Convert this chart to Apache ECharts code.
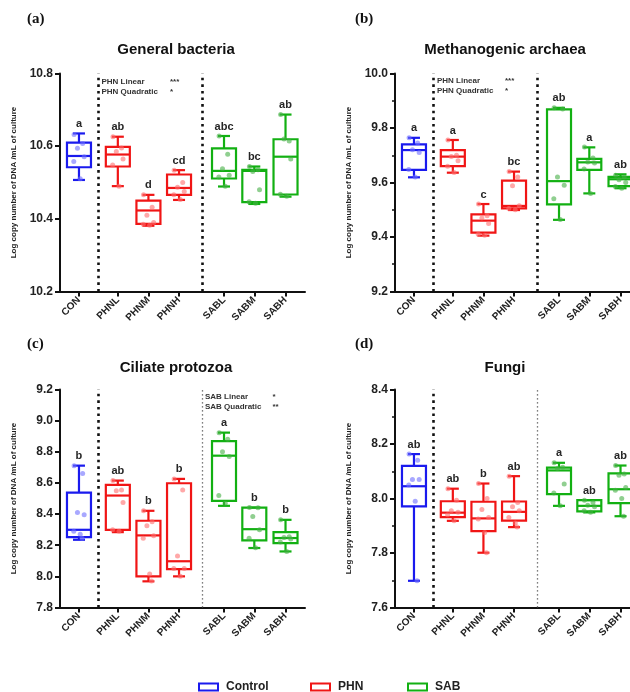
<!DOCTYPE html>
<html><head><meta charset="utf-8">
<script src="https://cdn.jsdelivr.net/npm/echarts@6/dist/echarts.min.js"></script>
<style>html,body{margin:0;padding:0;background:#fff}#c{width:630px;height:692px}</style>
</head><body><div id="c"></div>
<script>
// ---------- data ----------
const categories = ['CON','PHNL','PHNM','PHNH','SABL','SABM','SABH'];
const categoryGroup = ['Control','PHN','PHN','PHN','SAB','SAB','SAB'];
const groupNames = ['Control','PHN','SAB'];

const panelTitles = ['General bacteria','Methanogenic archaea','Ciliate protozoa','Fungi'];
const panelLetters = ['(a)','(b)','(c)','(d)'];
const yAxisName = 'Log copy number of DNA /mL of culture';

const bacteriaTicks = [10.2, 10.4, 10.6, 10.8];
const archaeaTicks  = [9.2, 9.4, 9.6, 9.8, 10.0];
const protozoaTicks = [7.8, 8.0, 8.2, 8.4, 8.6, 8.8, 9.0, 9.2];
const fungiTicks    = [7.6, 7.8, 8.0, 8.2, 8.4];

// box stats: [min, Q1, median, Q3, max]
const bacteriaBox = [
  [10.507, 10.542, 10.573, 10.610, 10.635],
  [10.490, 10.544, 10.577, 10.598, 10.626],
  [10.381, 10.386, 10.423, 10.450, 10.466],
  [10.452, 10.466, 10.485, 10.522, 10.534],
  [10.489, 10.511, 10.532, 10.594, 10.628],
  [10.441, 10.446, 10.532, 10.535, 10.544],
  [10.461, 10.467, 10.571, 10.619, 10.687]
];
const archaeaBox = [
  [9.619, 9.646, 9.719, 9.740, 9.764],
  [9.636, 9.660, 9.695, 9.719, 9.756],
  [9.405, 9.416, 9.460, 9.483, 9.521],
  [9.499, 9.505, 9.514, 9.607, 9.640],
  [9.463, 9.520, 9.605, 9.868, 9.874],
  [9.560, 9.646, 9.674, 9.687, 9.729],
  [9.579, 9.587, 9.612, 9.621, 9.630]
];
const protozoaBox = [
  [8.235, 8.252, 8.299, 8.538, 8.711],
  [8.284, 8.299, 8.519, 8.587, 8.615],
  [7.968, 8.000, 8.263, 8.357, 8.421],
  [8.000, 8.047, 8.097, 8.598, 8.626],
  [8.453, 8.485, 8.775, 8.869, 8.923],
  [8.182, 8.231, 8.303, 8.442, 8.442],
  [8.160, 8.214, 8.246, 8.284, 8.363]
];
const fungiBox = [
  [7.698, 7.971, 8.045, 8.120, 8.163],
  [7.918, 7.932, 7.948, 7.990, 8.036],
  [7.801, 7.880, 7.927, 7.988, 8.055],
  [7.895, 7.919, 7.951, 7.989, 8.082],
  [7.973, 8.016, 8.103, 8.113, 8.131],
  [7.949, 7.953, 7.973, 7.994, 7.994],
  [7.935, 7.983, 8.034, 8.092, 8.121]
];

// individual points
const bacteriaPoints = [
  [10.632, 10.607, 10.594, 10.571, 10.558, 10.510],
  [10.626, 10.595, 10.585, 10.565, 10.548, 10.490],
  [10.466, 10.432, 10.410, 10.390, 10.385, 10.382],
  [10.534, 10.500, 10.487, 10.475, 10.466, 10.453],
  [10.628, 10.578, 10.538, 10.520, 10.515, 10.490],
  [10.544, 10.535, 10.530, 10.480, 10.447, 10.443],
  [10.687, 10.614, 10.620, 10.565, 10.468, 10.462]
];
const archaeaPoints = [
  [9.764, 9.745, 9.720, 9.710, 9.648, 9.620],
  [9.756, 9.700, 9.695, 9.680, 9.660, 9.637],
  [9.521, 9.478, 9.470, 9.450, 9.410, 9.406],
  [9.640, 9.620, 9.588, 9.515, 9.505, 9.500],
  [9.874, 9.870, 9.620, 9.590, 9.540, 9.464],
  [9.730, 9.690, 9.675, 9.672, 9.650, 9.560],
  [9.627, 9.620, 9.610, 9.600, 9.585, 9.579]
];
const protozoaPoints = [
  [8.711, 8.660, 8.410, 8.395, 8.290, 8.270, 8.245],
  [8.615, 8.555, 8.550, 8.475, 8.300, 8.290],
  [8.421, 8.350, 8.325, 8.260, 8.245, 8.015, 7.970],
  [8.626, 8.555, 8.130, 8.050, 8.050, 8.000],
  [8.923, 8.880, 8.800, 8.770, 8.520, 8.470],
  [8.442, 8.440, 8.385, 8.300, 8.245, 8.183],
  [8.363, 8.255, 8.250, 8.240, 8.220, 8.160]
];
const fungiPoints = [
  [8.163, 8.140, 8.070, 8.070, 8.050, 7.990, 7.698],
  [8.036, 7.994, 7.955, 7.950, 7.940, 7.918],
  [8.055, 8.000, 7.960, 7.930, 7.925, 7.875, 7.801],
  [8.082, 7.985, 7.970, 7.955, 7.930, 7.910, 7.895],
  [8.131, 8.115, 8.110, 8.053, 8.020, 7.973],
  [7.994, 7.985, 7.975, 7.970, 7.955, 7.950],
  [8.121, 8.090, 8.085, 8.040, 8.030, 8.000, 7.935]
];

const bacteriaLetters = ['a','ab','d','cd','abc','bc','ab'];
const archaeaLetters  = ['a','a','c','bc','ab','a','ab'];
const protozoaLetters = ['b','ab','b','b','a','b','b'];
const fungiLetters    = ['ab','ab','b','ab','a','ab','ab'];

const bacteriaNotes = [['PHN Linear','***'],['PHN Quadratic','*']];
const archaeaNotes  = [['PHN Linear','***'],['PHN Quadratic','*']];
const protozoaNotes = [['SAB Linear','*'],['SAB Quadratic','**']];

// ---------- layout & style ----------
const FONT = '"Liberation Sans", Arial, sans-serif';
const SERIF = '"Liberation Serif", "Times New Roman", serif';
const UNIT = 30.6;                 // px per x unit
const xPos = [0.62, 1.89, 2.89, 3.89, 5.36, 6.35, 7.37];
const dividerPos = [1.265, 4.66];
const BOX_W = 24, CAP_W = 12, LW = 2.2, LETTER_GAP = 9.5;
const colors = {Control:'#1a1aee', PHN:'#f01515', SAB:'#12b012'};
const pointColors = {Control:'rgba(110,110,255,0.75)', PHN:'rgba(255,110,110,0.75)', SAB:'rgba(70,175,70,0.75)'};
const jitter = [-0.16, 0.12, -0.05, 0.17, -0.17, 0.04, 0.1];

const panels = [
  {box:bacteriaBox, pts:bacteriaPoints, letters:bacteriaLetters, ticks:bacteriaTicks, notes:bacteriaNotes,
   left:60, top:73.5, width:245, minor:false, lightSecond:false},
  {box:archaeaBox, pts:archaeaPoints, letters:archaeaLetters, ticks:archaeaTicks, notes:archaeaNotes,
   left:395, top:73.5, width:235, minor:true, lightSecond:false},
  {box:protozoaBox, pts:protozoaPoints, letters:protozoaLetters, ticks:protozoaTicks, notes:protozoaNotes,
   left:60, top:389.5, width:245, minor:false, lightSecond:true},
  {box:fungiBox, pts:fungiPoints, letters:fungiLetters, ticks:fungiTicks, notes:null,
   left:395, top:389.5, width:235, minor:true, lightSecond:true}
];
const GRID_H = 218;

function nameAt(v){
  let best = 0, d = 1e9;
  xPos.forEach((p,i)=>{ if (Math.abs(p-v) < d){ d = Math.abs(p-v); best = i; } });
  return categories[best];
}

function makeRender(color, letters){
  return function(params, api){
    const x = api.value(0);
    const pMin = api.coord([x, api.value(1)]);
    const pQ1  = api.coord([x, api.value(2)]);
    const pMed = api.coord([x, api.value(3)]);
    const pQ3  = api.coord([x, api.value(4)]);
    const pMax = api.coord([x, api.value(5)]);
    const cx = pMin[0], hw = BOX_W/2, cw = CAP_W/2;
    const st = {stroke: color, lineWidth: LW, fill: 'none'};
    return {type:'group', children:[
      {type:'line', shape:{x1:cx,y1:pMax[1],x2:cx,y2:pQ3[1]}, style:st},
      {type:'line', shape:{x1:cx,y1:pQ1[1],x2:cx,y2:pMin[1]}, style:st},
      {type:'line', shape:{x1:cx-cw,y1:pMax[1],x2:cx+cw,y2:pMax[1]}, style:st},
      {type:'line', shape:{x1:cx-cw,y1:pMin[1],x2:cx+cw,y2:pMin[1]}, style:st},
      {type:'rect', shape:{x:cx-hw,y:pQ3[1],width:2*hw,height:pQ1[1]-pQ3[1]}, style:st},
      {type:'line', shape:{x1:cx-hw,y1:pMed[1],x2:cx+hw,y2:pMed[1]}, style:st},
      {type:'text', x:cx, y:pMax[1]-LETTER_GAP,
       style:{text:letters[params.dataIndex], font:'bold 11px '+FONT, fill:'#262626',
              textAlign:'center', textVerticalAlign:'middle'}}
    ]};
  };
}

const grid = [], xAxis = [], yAxis = [], series = [], graphic = [];
panels.forEach((p, pi)=>{
  grid.push({left:p.left, top:p.top, width:p.width, height:GRID_H, outerBoundsMode:'none', containLabel:false});
  xAxis.push({
    gridIndex:pi, type:'value', min:0, max:p.width/UNIT,
    axisLine:{show:true, onZero:false, lineStyle:{color:'#111', width:2}},
    axisTick:{show:true, customValues:xPos, length:5, inside:false, lineStyle:{color:'#111', width:2}},
    axisLabel:{show:true, customValues:xPos, rotate:45, margin:7, formatter:(v)=>nameAt(v),
               fontSize:10, fontWeight:'bold', color:'#222', fontFamily:FONT},
    splitLine:{show:false}
  });
  const t = p.ticks;
  yAxis.push({
    gridIndex:pi, type:'value', min:t[0], max:t[t.length-1], interval:0.2,
    axisLine:{show:true, lineStyle:{color:'#111', width:2}},
    axisTick:{show:true, length:5, lineStyle:{color:'#111', width:2}},
    minorTick:{show:p.minor, splitNumber:2, length:3, lineStyle:{color:'#111', width:1.5}},
    splitLine:{show:false},
    axisLabel:{formatter:(v)=>v.toFixed(1), fontSize:12, fontWeight:'bold', color:'#222', fontFamily:FONT, margin:7},
    name:yAxisName, nameLocation:'middle', nameGap:42, nameRotate:90,
    nameTextStyle:{fontSize:8, fontWeight:'bold', color:'#222', fontFamily:FONT}
  });

  groupNames.forEach((g, gi)=>{
    const idx = categories.map((c,i)=>i).filter(i=>categoryGroup[i]===g);
    const boxData = idx.map(i=>[xPos[i]].concat(p.box[i]));
    const lets = idx.map(i=>p.letters[i]);
    const s = {
      type:'custom', name:g, xAxisIndex:pi, yAxisIndex:pi, clip:false, z:2,
      itemStyle:{color:colors[g]},
      encode:{x:0, y:[1,2,3,4,5]},
      renderItem: makeRender(colors[g], lets),
      data: boxData, silent:true
    };
    if (gi === 0){
      s.markLine = {
        silent:true, symbol:['none','none'], label:{show:false},
        data: dividerPos.map((d, di)=>{
          const light = p.lightSecond && di === 1;
          return {xAxis:d, lineStyle: light
            ? {color:'#555', width:1.3, type:[1.3, 2.7], cap:'butt'}
            : {color:'#111', width:2.6, type:[2.6, 4.0], cap:'butt'}};
        })
      };
    }
    series.push(s);
    const pts = [];
    idx.forEach(i=>{
      p.pts[i].forEach((v, k)=>{ pts.push([xPos[i] + jitter[k % jitter.length], v]); });
    });
    series.push({
      type:'scatter', name:g, xAxisIndex:pi, yAxisIndex:pi, z:3, silent:true,
      symbolSize:5, itemStyle:{color:pointColors[g]}, data:pts
    });
  });
});

// panel titles and letters
const titleX = [176, 505, 176, 505];
const titleY = [50, 50, 368, 368];
const letterX = [27, 355, 27, 355];
const letterY = [19, 19, 344, 344];
panelTitles.forEach((tt, i)=>{
  graphic.push({type:'text', x:titleX[i], y:titleY[i], silent:true,
    style:{text:tt, font:'bold 15px '+FONT, fill:'#111', textAlign:'center', textVerticalAlign:'middle'}});
  graphic.push({type:'text', x:letterX[i], y:letterY[i], silent:true,
    style:{text:panelLetters[i], font:'bold 15px '+SERIF, fill:'#111', textAlign:'left', textVerticalAlign:'middle'}});
});
// stats notes
const noteAnchors = [[101.5, 81.5, 170], [437, 81, 505], [205, 397, 272.5]];
[bacteriaNotes, archaeaNotes, protozoaNotes].forEach((nts, ni)=>{
  const a = noteAnchors[ni];
  nts.forEach((n, k)=>{
    graphic.push({type:'text', x:a[0], y:a[1]+k*10, silent:true,
      style:{text:n[0], font:'bold 8px '+FONT, fill:'#333', textAlign:'left', textVerticalAlign:'middle'}});
    graphic.push({type:'text', x:a[2], y:a[1]+k*10, silent:true,
      style:{text:n[1], font:'bold 8px '+FONT, fill:'#333', textAlign:'left', textVerticalAlign:'middle'}});
  });
});

const legendX = [193, 305, 402];
const legend = groupNames.map((g, i)=>({
  left:legendX[i], top:676, itemWidth:19, itemHeight:7, itemGap:0, selectedMode:false,
  data:[{name:g, icon:'rect', itemStyle:{color:'rgba(0,0,0,0)', borderColor:colors[g], borderWidth:2}}],
  textStyle:{fontSize:12, fontWeight:'bold', color:'#222', fontFamily:FONT, padding:[0,0,0,3]}
}));

const chart = echarts.init(document.getElementById('c'), null, {renderer:'canvas'});
chart.setOption({animation:false, backgroundColor:'#fff', grid, xAxis, yAxis, series, graphic, legend});
</script></body></html>
